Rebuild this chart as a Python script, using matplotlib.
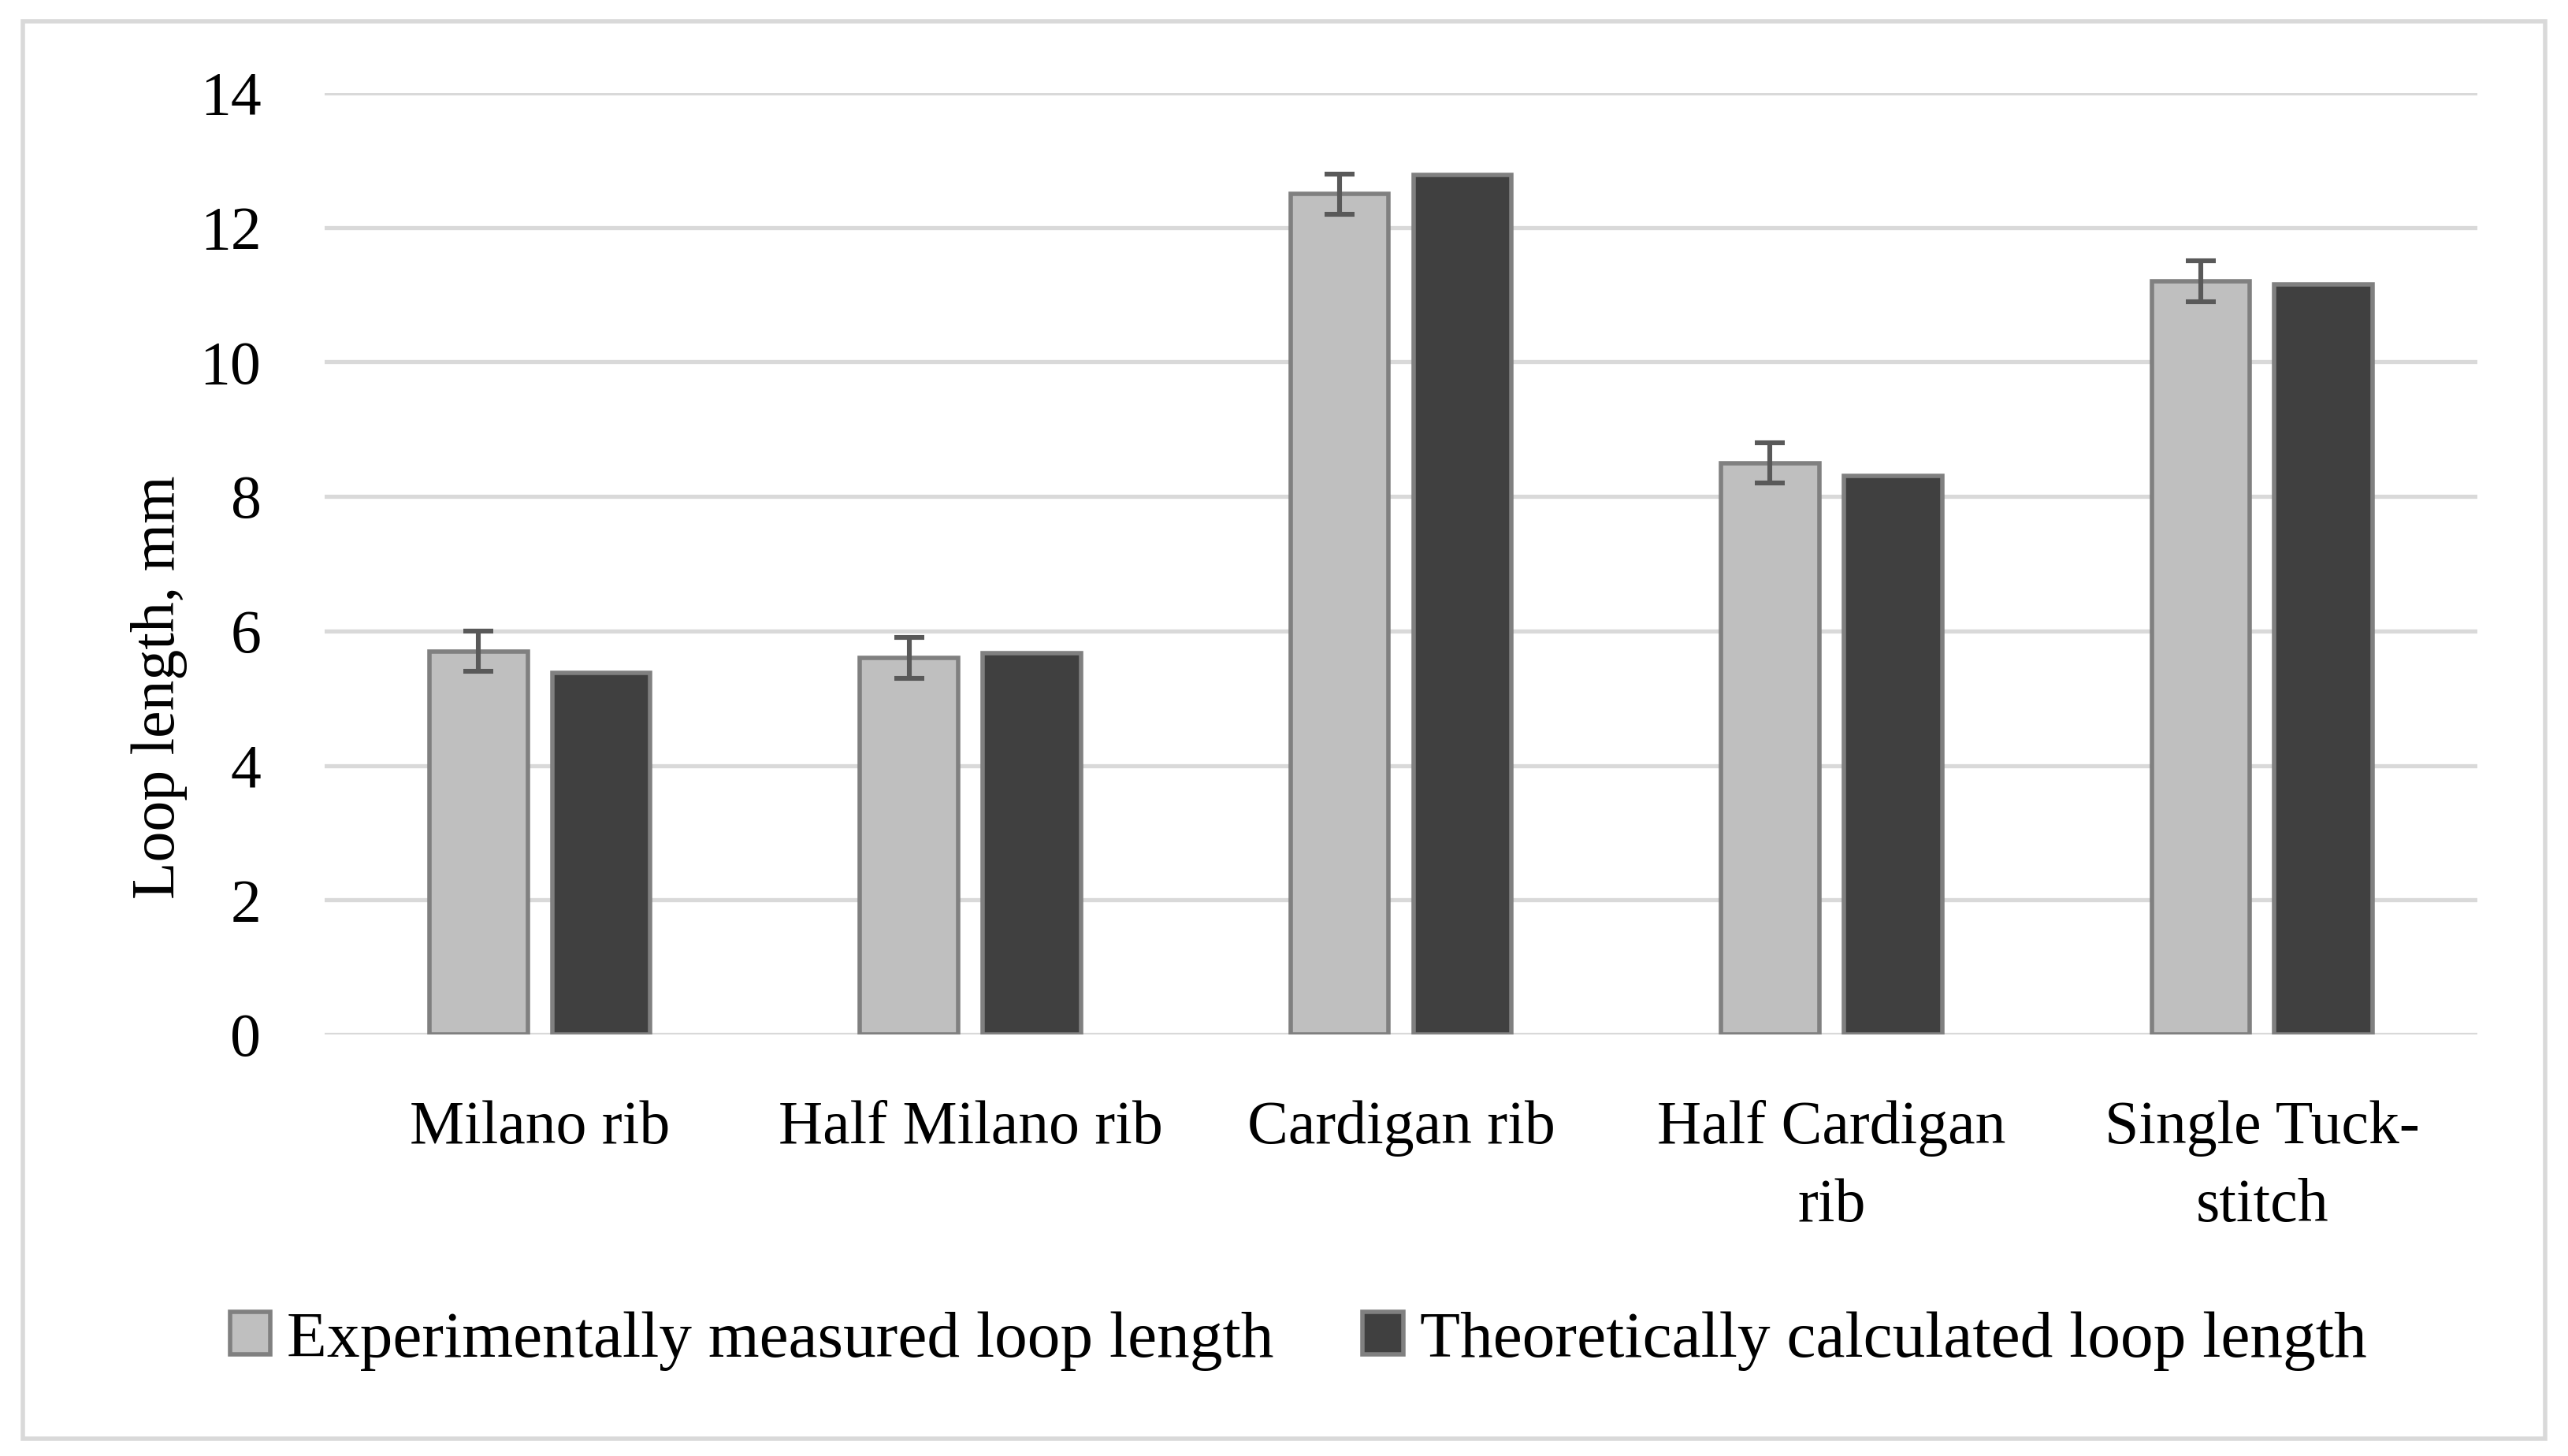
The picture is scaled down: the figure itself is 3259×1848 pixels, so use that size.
import numpy as np
import matplotlib
matplotlib.use('Agg')
import matplotlib.pyplot as plt
from matplotlib.patches import Rectangle, Patch

# dati
categorie = ['Milano rib', 'Half Milano rib', 'Cardigan rib', 'Half Cardigan\nrib', 'Single Tuck-\nstitch']
misurata = [5.7, 5.6, 12.5, 8.5, 11.2]
errore = [0.3, 0.3, 0.3, 0.3, 0.3]
teorica = [5.38, 5.67, 12.78, 8.31, 11.15]
etichette = ['Experimentally measured loop length', 'Theoretically calculated loop length']

plt.rcParams['font.family'] = ['Liberation Serif', 'DejaVu Serif']
fs = 28

fig = plt.figure(figsize=(3259 / 200, 1848 / 200), dpi=200)
ax = fig.add_axes([0.1264, 0.2895, 0.9647 - 0.1264, 0.9361 - 0.2895])

x = np.arange(len(categorie))
w = 0.228
off = 0.1426
ax.bar(x - off, misurata, w, color='#bfbfbf', edgecolor='#808080', linewidth=2.0, zorder=3,
       yerr=errore, error_kw=dict(ecolor='#595959', elinewidth=2.2, capsize=7, capthick=2.2, zorder=4))
ax.bar(x + off, teorica, w, color='#404040', edgecolor='#808080', linewidth=2.0, zorder=3)

ax.set_xlim(-0.5, 4.5)
ax.set_ylim(0, 14)
ax.set_yticks(np.arange(0, 15, 2))
ax.yaxis.grid(True, color='#d9d9d9', linewidth=1.9, zorder=0)
ax.set_axisbelow(True)
for s in ax.spines.values():
    s.set_visible(False)
ax.tick_params(axis='both', length=0, labelsize=fs)
ax.tick_params(axis='y', pad=29)
ax.tick_params(axis='x', pad=30)
ax.set_xticks(x)
ax.set_xticklabels(categorie, linespacing=1.5)

fig.text(0.062, 0.528, 'Loop length, mm', rotation=90, ha='center', va='center', fontsize=fs)

handles = [Patch(facecolor='#bfbfbf', edgecolor='#808080', linewidth=2.0),
           Patch(facecolor='#404040', edgecolor='#808080', linewidth=2.0)]
fig.legend(handles, etichette, loc='center', bbox_to_anchor=(0.5055, 0.079), ncol=2, frameon=False,
           fontsize=30, handlelength=0.62, handleheight=0.62, handletextpad=0.25, columnspacing=1.35)

# cornice esterna
fig.patches.append(Rectangle((29 / 3259, 1 - 1826 / 1848), 3201 / 3259, 1799 / 1848,
                             transform=fig.transFigure, fill=False, edgecolor='#d9d9d9', linewidth=2))

fig.savefig('out.png', dpi=200)
